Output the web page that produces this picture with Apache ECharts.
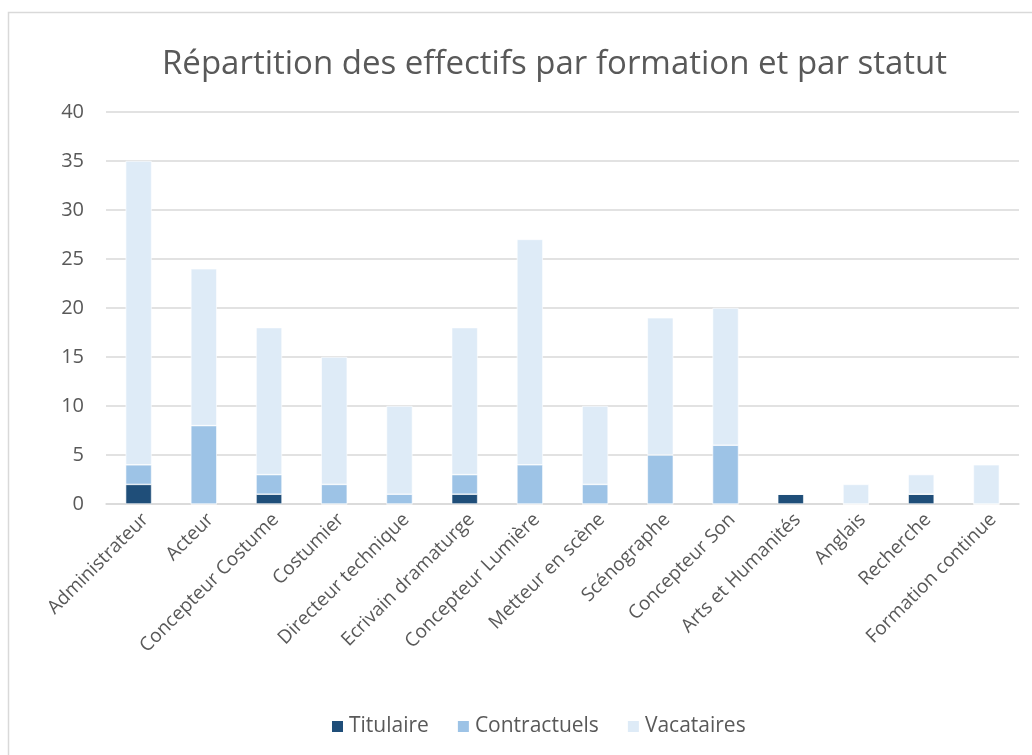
<!DOCTYPE html>
<html>
<head>
<meta charset="utf-8">
<script src="https://cdn.jsdelivr.net/npm/echarts@6/dist/echarts.min.js"></script>
<style>
  html, body { margin: 0; padding: 0; background: #fff; }
  #chart { width: 1032px; height: 755px; }
</style>
</head>
<body>
<div id="chart"></div>
<script>
// formations
var categories = ['Administrateur', 'Acteur', 'Concepteur Costume', 'Costumier', 'Directeur technique',
  'Ecrivain dramaturge', 'Concepteur Lumière', 'Metteur en scène', 'Scénographe', 'Concepteur Son',
  'Arts et Humanités', 'Anglais', 'Recherche', 'Formation continue'];
var titulaire = [2, 0, 1, 0, 0, 1, 0, 0, 0, 0, 1, 0, 1, 0];
var contractuels = [2, 8, 2, 2, 1, 2, 4, 2, 5, 6, 0, 0, 0, 0];
var vacataires = [31, 16, 15, 13, 9, 15, 23, 8, 14, 14, 0, 2, 2, 4];
var yTicks = [0, 5, 10, 15, 20, 25, 30, 35, 40];

var chart = echarts.init(document.getElementById('chart'), null, { renderer: 'canvas' });
var textColor = '#595959';
var font = 'Open Sans';

function barSeries(name, data, color) {
  return {
    name: name,
    type: 'bar',
    stack: 'total',
    data: data,
    barWidth: 26,
    itemStyle: { color: color, borderColor: '#ffffff', borderWidth: 0.6 }
  };
}

var option = {
  animation: false,
  textStyle: { fontFamily: font },
  title: {
    text: 'Répartition des effectifs par formation et par statut',
    left: 157,
    top: 43,
    textStyle: { fontFamily: font, fontSize: 33, fontWeight: 'normal', color: textColor }
  },
  legend: {
    top: 711,
    left: 325,
    itemWidth: 13,
    itemHeight: 13,
    itemGap: 27,
    icon: 'rect',
    textStyle: { fontFamily: font, fontSize: 21, color: textColor },
    data: ['Titulaire', 'Contractuels', 'Vacataires']
  },
  grid: { left: 106, right: 13, top: 112, bottom: 251, containLabel: false },
  xAxis: {
    type: 'category',
    data: categories,
    axisTick: { show: false },
    axisLine: { lineStyle: { color: '#d9d9d9', width: 1.5 } },
    axisLabel: { rotate: 45, interval: 0, fontSize: 19, color: textColor, fontFamily: font, margin: 6, verticalAlign: 'top' }
  },
  yAxis: {
    type: 'value',
    min: yTicks[0],
    max: yTicks[yTicks.length - 1],
    interval: 5,
    axisLine: { show: false },
    axisTick: { show: false },
    axisLabel: { fontSize: 20, color: textColor, fontFamily: font, margin: 22 },
    splitLine: { lineStyle: { color: '#d9d9d9', width: 1.5 } }
  },
  graphic: [{
    type: 'rect',
    shape: { x: 8.5, y: 12.5, width: 1040, height: 760 },
    style: { fill: 'none', stroke: '#d9d9d9', lineWidth: 1.5 },
    silent: true
  }],
  series: [
    barSeries('Titulaire', titulaire, '#1f4e79'),
    barSeries('Contractuels', contractuels, '#9dc3e6'),
    barSeries('Vacataires', vacataires, '#deebf7')
  ]
};
chart.setOption(option);
</script>
</body>
</html>
